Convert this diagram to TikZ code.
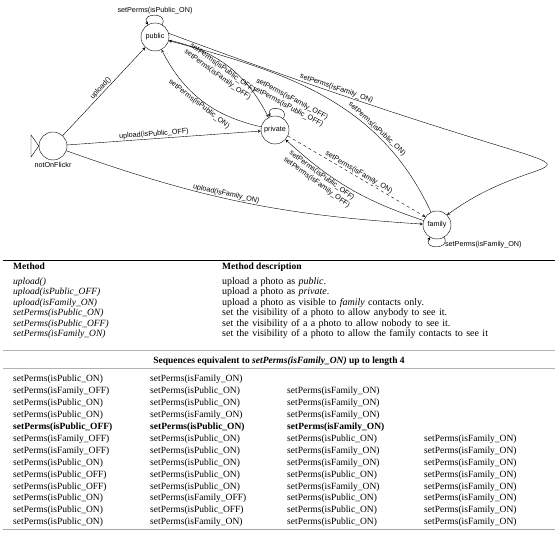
\documentclass[tikz,border=0pt]{standalone}
\usepackage{fontspec}
\setmainfont{Liberation Serif}
\newfontfamily\diafont{Liberation Sans}
\usetikzlibrary{positioning}
\tikzset{>=stealth}
\tikzset{
  state/.style={draw, circle, minimum size=28pt, inner sep=0pt, font=\diafont\fontsize{7.2}{8.6}\selectfont},
  lbl/.style={font=\diafont\fontsize{7.2}{8.6}\selectfont, inner sep=1pt},
  cell/.style={anchor=base west, inner sep=0pt, font=\fontsize{9.5}{11}\selectfont},
  desc/.style={anchor=base west, inner sep=0pt, font={\fontsize{10}{12}\selectfont\spaceskip 3.4pt\relax}},
  rulegray/.style={draw=gray!60, line width=0.5pt, double, double distance=0.8pt}
}
\newcommand{\sPon}{setPerms(isPublic\_ON)}
\newcommand{\sPoff}{setPerms(isPublic\_OFF)}
\newcommand{\sFon}{setPerms(isFamily\_ON)}
\newcommand{\sFoff}{setPerms(isFamily\_OFF)}

\begin{document}
\begin{tikzpicture}[x=1pt, y=1pt]
    \useasboundingbox (0,0) rectangle (558,540);

    % states
    \node[state] (public) at (155,503) {public};
    \node[state] (private) at (275,410) {private};
    \node[state] (family) at (437,315) {family};
    \node[state] (notOnFlickr) at (53,394) {};
    \node[lbl, below=1pt of notOnFlickr] (startlbl) {notOnFlickr};
    \draw (notOnFlickr.west) -- (31,405) -- (31,383) -- cycle;

    % uploads
    \draw[->] (notOnFlickr) -- node[lbl, above, sloped] {upload()} (public);
    \draw[->] (notOnFlickr) -- node[lbl, above, sloped, pos=0.45] {upload(isPublic\_OFF)} (private);
    \draw[->] (notOnFlickr) to[bend right=8] node[lbl, above, sloped, pos=0.45] {upload(isFamily\_ON)} (family);

    % setPerms
    \draw[->] (public) to[out=60, in=120, looseness=2.6] node[lbl, above] {\sPon} (public);
    \draw[->] (public) to[bend left=25] node[lbl, below, sloped, pos=0.47, align=center] {\sPoff\\\sFoff} (private);
    \draw[->] (private) to[bend left=25] node[lbl, below, sloped] {\sPon} (public);
    \draw[->] (private) to[out=55, in=110, looseness=2.6] (private);
    \node[lbl, rotate=-28, align=center] (privloop) at (290,437) {\sFoff\\\sPoff};
    \draw[->] (public.15) .. controls (670,320) and (570,415) .. node[lbl, above, sloped, pos=0.13] {\sFon} (family.45);
    \draw[->] (family) to[out=115, in=-15] node[lbl, above, sloped, pos=0.3] {\sPon} (public);
    \draw[->] (family) to[bend left=12] node[lbl, below, sloped, pos=0.7, align=center] {\sPoff\\\sFoff} (private);
    \draw[->, dashed] (private.-25) -- node[lbl, above, sloped] {\sFon} (family.145);
    \draw[->] (family) to[out=-60, in=-120, looseness=2.6] node[lbl, pos=0.25, anchor=west] {\sFon} (family);

    % method table
    \draw[black, line width=0.6pt] (3,280) -- (555,280);
    \node[cell, font=\fontsize{9.5}{11}\selectfont\bfseries] (mhead) at (13,270) {Method};
    \node[cell, font=\fontsize{9.5}{11}\selectfont\bfseries] (dhead) at (222,270) {Method description};
    \draw[rulegray] (3,265.5) -- (555,265.5);
    \foreach \m/\d [count=\i from 0] in {
        upload()/upload a photo as \textit{public}.,
        upload(isPublic\_OFF)/upload a photo as \textit{private}.,
        upload(isFamily\_ON)/upload a photo as visible to \textit{family} contacts only.,
        \sPon/set the visibility of a photo to allow anybody to see it.,
        \sPoff/set the visibility of a a photo to allow nobody to see it.,
        \sFon/set the visibility of a photo to allow the family contacts to see it}
    {
        \node[cell] (m\i) at (13,255.5-10.5*\i) {\textit{\m}};
        \node[desc] (d\i) at (222,255.5-10.5*\i) {\d};
    }
    \draw[rulegray] (3,197.5) -- (555,197.5);

    % sequences table
    \draw[rulegray] (3,189) -- (555,189);
    \node[anchor=base, inner sep=0pt, font=\fontsize{9.5}{11}\selectfont\bfseries] (shead) at (279,176)
        {Sequences equivalent to \textit{\sFon} up to length 4};
    \draw[rulegray] (3,171) -- (555,171);
    \foreach \cells [count=\i from 0] in {
        {\sPon, \sFon},
        {\sFoff, \sPon, \sFon},
        {\sPon, \sPon, \sFon},
        {\sPon, \sFon, \sFon},
        {\textbf{\sPoff}, \textbf{\sPon}, \textbf{\sFon}},
        {\sFoff, \sPon, \sPon, \sFon},
        {\sFoff, \sPon, \sFon, \sFon},
        {\sPon, \sPon, \sFon, \sFon},
        {\sPoff, \sPon, \sPon, \sFon},
        {\sPoff, \sPon, \sFon, \sFon},
        {\sPon, \sFoff, \sPon, \sFon},
        {\sPon, \sPoff, \sPon, \sFon},
        {\sPon, \sFon, \sPon, \sFon}}
    {
        \foreach \c [count=\j from 0] in \cells
            \node[cell] (s\i-\j) at (13+137*\j,158-11.9*\i) {\c};
    }
    \draw[gray!70, line width=1pt] (3,10) -- (555,10);
\end{tikzpicture}
\end{document}
